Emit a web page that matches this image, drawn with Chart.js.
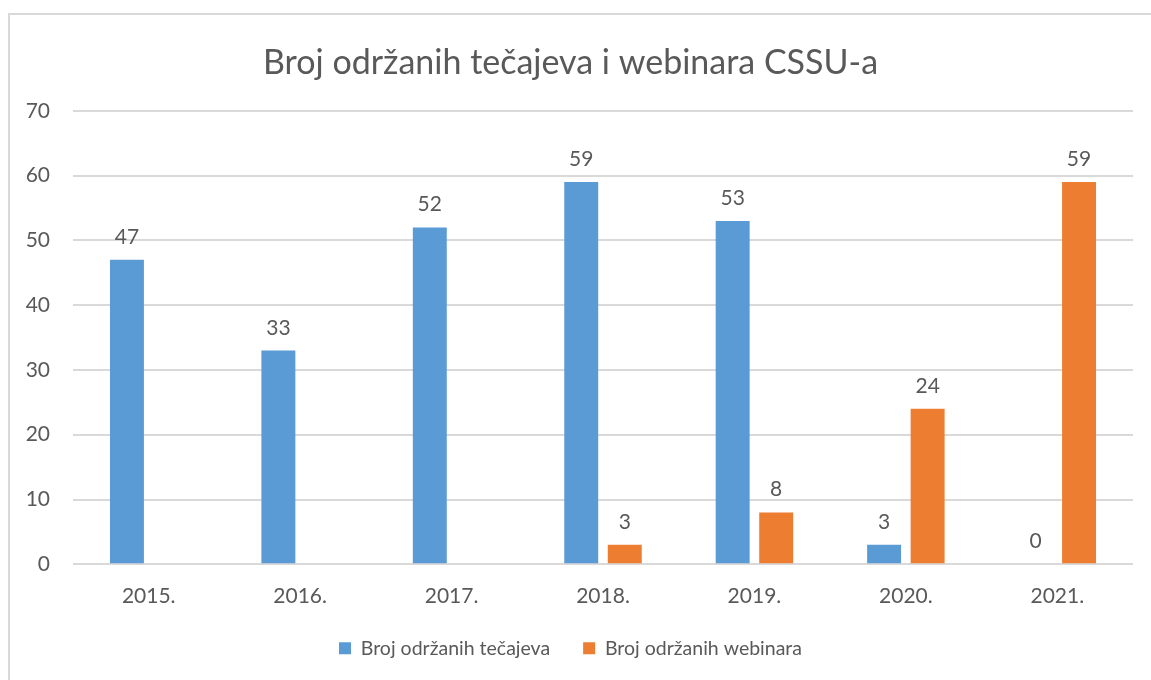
<!DOCTYPE html>
<html>
<head>
<meta charset="utf-8">
<script src="https://cdn.jsdelivr.net/npm/chart.js@4/dist/chart.umd.min.js"></script>
<style>
    html, body { margin: 0; padding: 0; background: #fff; }
    #wrap { position: relative; width: 1151px; height: 680px; }
</style>
</head>
<body>
<div id="wrap"><canvas id="chart"></canvas></div>
<script>
// data
const years = ['2015.', '2016.', '2017.', '2018.', '2019.', '2020.', '2021.'];
const tecajevi = [47, 33, 52, 59, 53, 3, 0];
const webinari = [null, null, null, 3, 8, 24, 59];
const yTicks = [0, 10, 20, 30, 40, 50, 60, 70];

const textColor = '#595959';
const gridColor = '#D9D9D9';
const fontFamily = 'Lato, "Open Sans", sans-serif';

// outer frame like the Excel chart area
const framePlugin = {
    id: 'frame',
    beforeDraw(chart) {
        const ctx = chart.ctx;
        ctx.save();
        ctx.fillStyle = '#fff';
        ctx.fillRect(0, 0, chart.width, chart.height);
        ctx.strokeStyle = gridColor;
        ctx.lineWidth = 2;
        ctx.strokeRect(9, 14, chart.width + 20, chart.height + 20);
        ctx.restore();
    }
};

// value labels above bars
const valueLabels = {
    id: 'valueLabels',
    afterDatasetsDraw(chart) {
        const ctx = chart.ctx;
        ctx.save();
        ctx.fillStyle = textColor;
        ctx.font = '21px ' + fontFamily;
        ctx.textAlign = 'center';
        ctx.textBaseline = 'alphabetic';
        chart.data.datasets.forEach((ds, i) => {
            const meta = chart.getDatasetMeta(i);
            meta.data.forEach((bar, j) => {
                const v = ds.data[j];
                if (v === null || v === undefined) return;
                ctx.fillText(String(v), bar.x, bar.y - 16);
            });
        });
        ctx.restore();
    }
};

new Chart(document.getElementById('chart'), {
    type: 'bar',
    data: {
        labels: years,
        datasets: [
            {
                label: 'Broj održanih tečajeva',
                data: tecajevi,
                backgroundColor: '#5B9BD5',
                categoryPercentage: 0.575,
                barPercentage: 0.78,
            },
            {
                label: 'Broj održanih webinara',
                data: webinari,
                backgroundColor: '#ED7D31',
                categoryPercentage: 0.575,
                barPercentage: 0.78,
            }
        ]
    },
    options: {
        responsive: true,
        maintainAspectRatio: false,
        animation: false,
        layout: { padding: { left: 8, right: 18, top: 43, bottom: 12 } },
        plugins: {
            title: {
                display: true,
                text: 'Broj održanih tečajeva i webinara CSSU-a',
                color: textColor,
                font: { family: fontFamily, size: 34, weight: 'normal' },
                padding: { top: 0, bottom: 27 }
            },
            legend: {
                position: 'bottom',
                labels: {
                    color: textColor,
                    font: { family: fontFamily, size: 19.5 },
                    boxWidth: 12,
                    boxHeight: 12,
                    padding: 33
                }
            },
            tooltip: { enabled: false }
        },
        scales: {
            x: {
                afterFit: (scale) => { scale.height -= 14; },
                grid: { display: false },
                border: { display: false },
                ticks: {
                    color: textColor,
                    font: { family: fontFamily, size: 21 },
                    padding: 11
                }
            },
            y: {
                min: 0,
                max: 70,
                afterFit: (scale) => { scale.width = 65; },
                afterBuildTicks: (scale) => {
                    scale.ticks = yTicks.map(v => ({ value: v }));
                },
                grid: { color: gridColor, lineWidth: 2, drawTicks: false },
                border: { display: false },
                ticks: {
                    color: textColor,
                    font: { family: fontFamily, size: 21 },
                    padding: 23
                }
            }
        }
    },
    plugins: [framePlugin, valueLabels]
});
</script>
</body>
</html>
